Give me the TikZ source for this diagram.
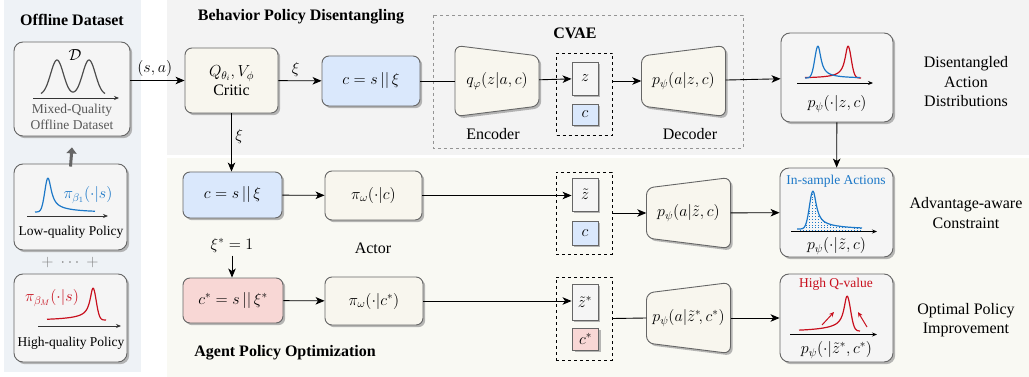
\RequirePackage{fix-cm}
\documentclass[tikz,border=0pt]{standalone}
\usepackage{amsmath}
\usepackage{amssymb}
\usepackage{fontspec}
\setmainfont{Liberation Serif}
\usepackage{tikz}
\usetikzlibrary{calc}
\usetikzlibrary{arrows.meta}
\usetikzlibrary{shadows}
\usetikzlibrary{positioning}

\definecolor{panelblue}{RGB}{238,242,246}
\definecolor{panelgray}{RGB}{243,243,243}
\definecolor{panelcream}{RGB}{249,249,243}
\definecolor{boxline}{RGB}{102,102,102}
\definecolor{boxgray}{RGB}{245,245,245}
\definecolor{boxcream}{RGB}{248,246,238}
\definecolor{boxblue}{RGB}{218,232,252}
\definecolor{boxred}{RGB}{248,215,213}
\definecolor{curveblue}{RGB}{28,120,200}
\definecolor{curvered}{RGB}{200,16,30}

\tikzset{
  card/.style={draw=boxline, fill=boxgray, rounded corners=9pt, line width=0.9pt,
    drop shadow={shadow xshift=2.2pt, shadow yshift=-2.2pt, fill=black!40, opacity=0.7}},
  creambox/.style={card, fill=boxcream, rounded corners=7pt},
  bluebox/.style={card, fill=boxblue, rounded corners=7pt},
  redbox/.style={card, fill=boxred, rounded corners=7pt},
  latent/.style={card, rounded corners=0pt, minimum width=26pt, inner sep=0pt},
  latdash/.style={draw, dashed, line width=0.9pt, minimum width=56pt, inner sep=0pt},
  coder/.style={minimum width=84pt, minimum height=50pt, inner sep=0pt},
  trap/.style={draw=boxline, fill=boxcream, line width=0.9pt, rounded corners=7pt,
    drop shadow={shadow xshift=2.2pt, shadow yshift=-2.2pt, fill=black!40, opacity=0.7}},
  conn/.style={-{Stealth[length=9pt,width=7.5pt,inset=2.5pt]}, line width=0.9pt},
  axis/.style={-{Stealth[length=5pt,width=4pt]}, line width=0.8pt},
  small/.style={font=\fontsize{13.5}{16}\selectfont},
  title/.style={font=\fontsize{16}{19}\selectfont\bfseries},
  curve/.style={line width=1.2pt, line join=round},
}

\begin{document}
\begin{tikzpicture}[x=1pt, y=-1pt, font=\fontsize{16}{19.5}\selectfont]
\useasboundingbox (0,0) rectangle (1029,377);

% panels
\fill[panelblue] (4,0) rectangle (141,372);
\fill[panelgray] (167,0) rectangle (1029,155.5);
\fill[panelcream] (167,158) rectangle (1029,377);

\node[title] (offtitle) at (72,20) {Offline Dataset};
\node[title] (bpdtitle) at (301,17) {Behavior Policy Disentangling};
\node[title] (apotitle) at (285,353) {Agent Policy Optimization};

% offline dataset
\node[card, minimum width=116pt, minimum height=94pt] (dset) at (72,89) {};
\node[card, minimum width=113pt, minimum height=86pt] (lowpol) at (70.5,207) {};
\node[card, minimum width=113pt, minimum height=88pt] (highpol) at (70.5,318) {};

\draw[curve, black!70] plot[domain=41:105, samples=70, smooth]
  (\x, {95 - 35*(exp(-((\x-57)/9)^2) + exp(-((\x-89)/9)^2))});
\node (dlabel) at (75,55) {$\mathcal{D}$};
\draw[axis, black!80] (33,98) -- (119,98);
\node[small, black!65, align=center] (dtext) at (72,116.5) {Mixed-Quality\\Offline Dataset};

\draw[curve, curveblue] plot[domain=35:48, samples=20, smooth] (\x, {212 - 34*exp(-((\x-48)/4.5)^2)});
\draw[curve, curveblue] plot[domain=48:95, samples=60, smooth]
  (\x, {212 - (28/(1+((\x-48)/4)^2) + 6*exp(-(\x-48)/20))});
\node[curveblue] (pilow) at (88,195) {$\pi_{\beta_1}(\cdot|s)$};
\draw[axis, black!80] (27,216) -- (108,216);
\node[small] (lowtext) at (71,232) {Low-quality Policy};

\node[black!50] (plusdots) at (70,262) {$+\;\cdots\;+$};

\draw[curve, curvered] plot[domain=47:93, samples=60, smooth]
  (\x, {320 - (26/(1+((\x-93)/3.5)^2) + 6*exp((\x-93)/20))});
\draw[curve, curvered] plot[domain=93:106, samples=20, smooth] (\x, {320 - 32*exp(-((\x-93)/4.5)^2)});
\node[curvered] (pihigh) at (52,298) {$\pi_{\beta_M}(\cdot|s)$};
\draw[axis, black!80] (38,326) -- (121,326);
\node[small] (hightext) at (71,343) {High-quality Policy};

\draw[-{Triangle[length=6pt,width=10pt]}, line width=3pt, black!60]
  ([yshift=-3pt]lowpol.north) -- ([yshift=-11pt]dset.south);

% behavior policy disentangling
\node[creambox, minimum width=93pt, minimum height=65pt, align=center] (critic) at (231.5,80.5)
  {$Q_{\theta_i},V_\phi$\\[-1pt]Critic};
\node[bluebox, minimum width=98pt, minimum height=50pt] (ctop) at (371,81) {$c=s\,||\,\xi$};

\draw[boxline!70, dashed, line width=0.9pt] (433,15) rectangle (743,148);
\node[title] (cvae) at (575,33) {CVAE};

\coordinate (encpos) at (497,81);
\draw[trap] ($(encpos)+(-42,-35.5)$) -- ++(84,10.5) -- ++(0,50) -- ++(-84,10.5) -- cycle;
\node[coder] (enc) at (encpos) {$q_\varphi(z|a,c)$};
\node (enclabel) at (493,134) {Encoder};

\node[latdash, minimum height=82pt] (lat1) at (584.5,94) {};
\node[latent, minimum height=33pt] (z1) at (585,78.5) {$z$};
\node[latent, fill=boxblue, minimum height=21pt] (c1) at (585,114.5) {$c$};

\coordinate (decpos) at (683.5,81);
\draw[trap] ($(decpos)+(-42,-25)$) -- ++(84,-10.5) -- ++(0,71) -- ++(-84,-10.5) -- cycle;
\node[coder] (dec) at (decpos) {$p_\psi(a|z,c)$};
\node (declabel) at (690,134) {Decoder};

\node[card, minimum width=112pt, minimum height=89pt] (dist) at (837,77.5) {};
\draw[curve, curvered] plot[domain=805:848, samples=60, smooth]
  (\x, {78 - (28/(1+((\x-848)/3.5)^2) + 4*exp((\x-848)/15))});
\draw[curve, curvered] plot[domain=848:861, samples=20, smooth] (\x, {78 - 32*exp(-((\x-848)/4.5)^2)});
\draw[curve, curveblue] plot[domain=805:818, samples=20, smooth] (\x, {78 - 32*exp(-((\x-818)/4.5)^2)});
\draw[curve, curveblue] plot[domain=818:860, samples=60, smooth]
  (\x, {78 - (28/(1+((\x-818)/3.5)^2) + 4*exp(-(\x-818)/15))});
\draw[axis] (797,83) -- (873,83);
\node (disttext) at (837,104) {$p_\psi(\cdot|z,c)$};

\node[align=center] (distnote) at (966,82) {Disentangled\\Action\\Distributions};

\draw[conn] (dset.east |- critic.west) -- node[above, pos=0.45] {$(s,a)$} (critic.west);
\draw[conn] (critic) -- node[above, pos=0.4] {$\xi$} (ctop);
\draw[line width=0.9pt] (ctop) -- (enc);
\draw[conn] (enc) -- (z1);
\draw[conn] (lat1.east |- dec.west) -- (dec.west);
\draw[conn] (dec) -- (dist);

% agent policy optimization
\node[bluebox, minimum width=99pt, minimum height=46pt] (cbot) at (232.5,195) {$c=s\,||\,\xi$};
\node[creambox, minimum width=97pt, minimum height=49pt] (actor) at (373.5,195.5) {$\pi_\omega(\cdot|c)$};
\node (actorlabel) at (373,248) {Actor};
\node (xistar) at (232,245) {$\xi^*=1$};
\node[redbox, minimum width=100pt, minimum height=45pt] (cred) at (233,300.5) {$c^*=s\,||\,\xi^*$};
\node[creambox, minimum width=98pt, minimum height=48pt] (actorstar) at (374,301) {$\pi_\omega(\cdot|c^*)$};

\node[latdash, minimum height=82pt] (lat2) at (584,213) {};
\node[latent, minimum height=33pt] (z2) at (585,194.5) {$\tilde z$};
\node[latent, fill=boxblue, minimum height=24pt] (c2) at (585,233) {$c$};

\node[latdash, minimum height=83pt] (lat3) at (584,318.5) {};
\node[latent, minimum height=36pt] (z3) at (585,302) {$\tilde z^*$};
\node[latent, fill=boxred, minimum height=22pt] (c3) at (585.5,339) {$c^*$};

\coordinate (dec2pos) at (688.5,213);
\draw[trap] ($(dec2pos)+(-42,-25)$) -- ++(84,-10.5) -- ++(0,71) -- ++(-84,-10.5) -- cycle;
\node[coder] (dec2) at (dec2pos) {$p_\psi(a|\tilde z,c)$};

\coordinate (dec3pos) at (688.5,318);
\draw[trap] ($(dec3pos)+(-42,-25)$) -- ++(84,-10.5) -- ++(0,71) -- ++(-84,-10.5) -- cycle;
\node[coder] (dec3) at (dec3pos) {$p_\psi(a|\tilde z^*\!,c^*)$};

% in-sample actions
\node[card, minimum width=113pt, minimum height=89pt] (insample) at (836.5,212.5) {};
\node[small, curveblue] (instext) at (836,181) {In-sample Actions};
\foreach \xx in {800,803,...,861} {
  \pgfmathsetmacro{\yy}{\xx<813 ? 229 - 38*exp(-((\xx-813)/5)^2) : 229 - (32/(1+((\xx-813)/4)^2) + 6*exp(-(\xx-813)/25))}
  \draw[curveblue, dotted, line width=0.8pt] (\xx,231) -- (\xx,\yy);
}
\draw[curve, curveblue] plot[domain=797:813, samples=20, smooth] (\x, {229 - 38*exp(-((\x-813)/5)^2)});
\draw[curve, curveblue] plot[domain=813:862, samples=60, smooth]
  (\x, {229 - (32/(1+((\x-813)/4)^2) + 6*exp(-(\x-813)/25))});
\draw[axis] (791,231.5) -- (877,231.5);
\node (instail) at (836.5,246) {$p_\psi(\cdot|\tilde z,c)$};

% high q-value
\node[card, minimum width=113pt, minimum height=88pt] (highq) at (836.5,318) {};
\node[small, curvered] (hqtext) at (836,284) {High Q-value};
\draw[curve, curvered] plot[domain=799:847, samples=60, smooth]
  (\x, {331 - (27/(1+((\x-847)/3.5)^2) + 8*exp((\x-847)/20))});
\draw[curve, curvered] plot[domain=847:860, samples=20, smooth] (\x, {331 - 35*exp(-((\x-847)/5)^2)});
\draw[curvered, line width=1pt, -{Stealth[length=5pt,width=4.5pt]}] (822,325) -- (834,312);
\draw[curvered, line width=1pt, -{Stealth[length=5pt,width=4.5pt]}] (867,327) -- (858,312);
\draw[axis] (790,334.5) -- (877,334.5);
\node (hqlabel) at (836.5,350) {$p_\psi(\cdot|\tilde z^*,c^*)$};

\node[align=center] (constnote) at (966,213) {Advantage-aware\\Constraint};
\node[align=center] (optnote) at (966,320) {Optimal Policy\\Improvement};

\draw[conn] (dist) -- (insample);
\draw[conn] (critic.south) -- node[right, pos=0.4] {$\xi$} (critic.south |- cbot.north);
\draw[conn] (cbot) -- (actor);
\draw[conn] (actor.east) -- (actor.east -| z2.west);
\draw[conn] (lat2.east) -- (dec2.west);
\draw[conn] (dec2) -- (insample);
\draw[conn] (xistar.south) -- (xistar.south |- cred.north);
\draw[conn] (cred) -- (actorstar);
\draw[conn] (actorstar.east) -- (actorstar.east -| z3.west);
\draw[line width=0.9pt] (lat3.east) -- (dec3.west);
\draw[conn] (dec3) -- (highq);
\end{tikzpicture}
\end{document}
